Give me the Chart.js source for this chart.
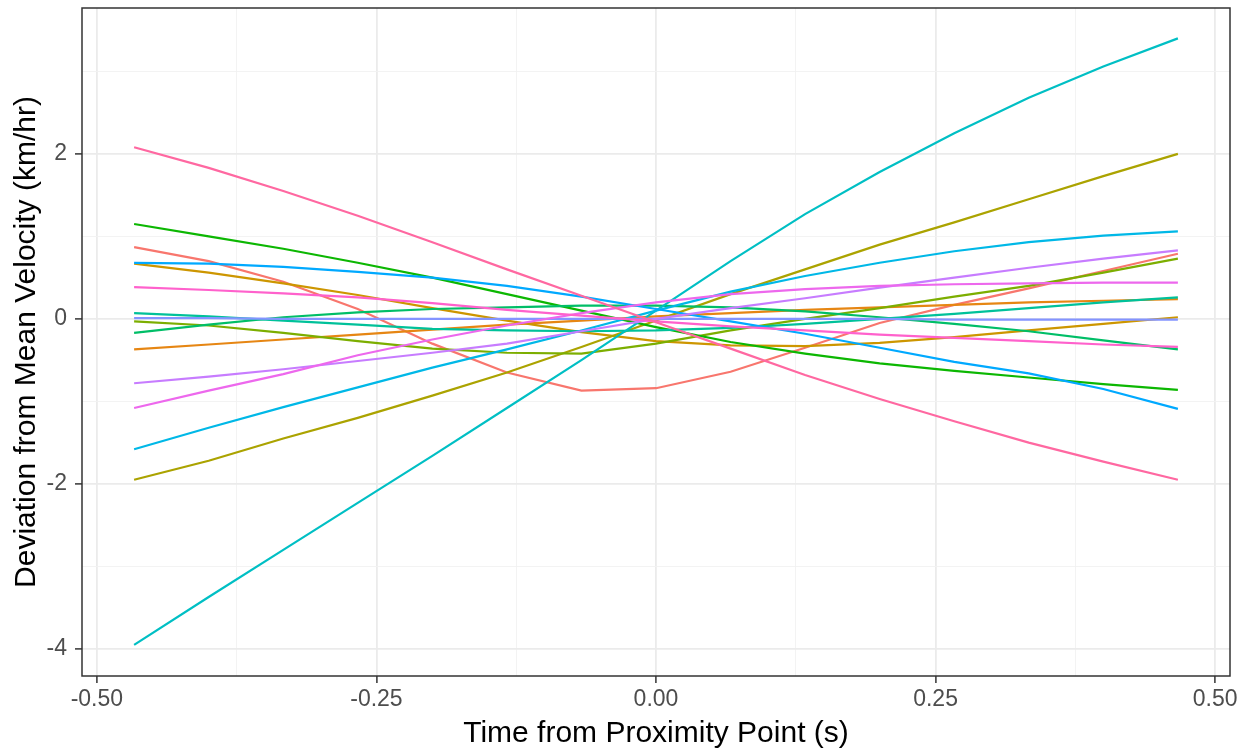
<!DOCTYPE html>
<html><head><meta charset="utf-8">
<script src="https://cdn.jsdelivr.net/npm/chart.js@4"></script>
<style>html,body{margin:0;padding:0;background:#fff;}canvas{display:block;}</style>
</head><body>
<canvas id="c" width="1249" height="749"></canvas>
<script>
const times = [-0.4667, -0.4, -0.3333, -0.2667, -0.2, -0.1333, -0.0667, 0, 0.0667, 0.1333, 0.2, 0.2667, 0.3333, 0.4, 0.4667];

const salmon      = [0.87, 0.70, 0.45, 0.12, -0.30, -0.65, -0.87, -0.84, -0.64, -0.35, -0.05, 0.17, 0.37, 0.58, 0.79];
const orange      = [-0.37, -0.31, -0.25, -0.19, -0.13, -0.07, -0.02, 0.03, 0.07, 0.11, 0.14, 0.17, 0.20, 0.22, 0.24];
const goldenrod   = [0.67, 0.56, 0.43, 0.29, 0.13, -0.02, -0.16, -0.27, -0.32, -0.33, -0.29, -0.22, -0.14, -0.06, 0.02];
const olive       = [-1.95, -1.72, -1.45, -1.20, -0.93, -0.65, -0.34, -0.02, 0.30, 0.60, 0.90, 1.17, 1.45, 1.73, 2.00];
const yellowGreen = [-0.03, -0.08, -0.17, -0.27, -0.36, -0.41, -0.42, -0.30, -0.14, 0.00, 0.13, 0.27, 0.40, 0.56, 0.73];
const green       = [1.15, 1.00, 0.85, 0.68, 0.50, 0.30, 0.10, -0.10, -0.28, -0.42, -0.54, -0.63, -0.71, -0.79, -0.86];
const greenTeal   = [-0.17, -0.07, 0.02, 0.08, 0.12, 0.14, 0.16, 0.16, 0.14, 0.09, 0.02, -0.06, -0.15, -0.26, -0.37];
const teal        = [0.07, 0.03, -0.02, -0.07, -0.12, -0.14, -0.15, -0.14, -0.11, -0.06, 0.00, 0.06, 0.13, 0.20, 0.26];
const cyan        = [-3.95, -3.37, -2.80, -2.23, -1.66, -1.08, -0.50, 0.10, 0.70, 1.27, 1.78, 2.25, 2.68, 3.06, 3.40];
const sky         = [-1.58, -1.32, -1.07, -0.83, -0.59, -0.37, -0.14, 0.10, 0.33, 0.52, 0.68, 0.82, 0.93, 1.01, 1.06];
const blue        = [0.68, 0.67, 0.63, 0.57, 0.50, 0.40, 0.27, 0.12, -0.03, -0.18, -0.35, -0.52, -0.66, -0.85, -1.09];
const periwinkle  = [0.01, 0.01, 0.00, 0.00, 0.00, 0.00, 0.00, 0.00, 0.00, 0.00, 0.00, -0.01, -0.01, -0.01, -0.01];
const purple      = [-0.78, -0.70, -0.61, -0.51, -0.41, -0.30, -0.15, 0.00, 0.13, 0.25, 0.38, 0.50, 0.62, 0.73, 0.83];
const violet      = [-1.08, -0.87, -0.67, -0.44, -0.25, -0.08, 0.07, 0.20, 0.30, 0.36, 0.40, 0.42, 0.43, 0.44, 0.44];
const magenta     = [0.385, 0.35, 0.31, 0.26, 0.19, 0.11, 0.04, -0.03, -0.09, -0.14, -0.19, -0.23, -0.27, -0.31, -0.34];
const pink        = [2.08, 1.83, 1.55, 1.25, 0.93, 0.60, 0.28, -0.04, -0.36, -0.68, -0.97, -1.24, -1.50, -1.73, -1.95];

const seriesList = [salmon, orange, goldenrod, olive, yellowGreen, green, greenTeal, teal, cyan, sky, blue, periwinkle, purple, violet, magenta, pink];
const seriesColors = ['#F8766D', '#E68613', '#CD9600', '#ABA300', '#7CAE00', '#0CB702', '#00BE67', '#00C19A', '#00BFC4', '#00B8E7', '#00A9FF', '#8494FF', '#C77CFF', '#ED68ED', '#FF61CC', '#FF68A1'];

const xTicks = [-0.5, -0.375, -0.25, -0.125, 0, 0.125, 0.25, 0.375, 0.5];
const xMajor = [-0.5, -0.25, 0, 0.25, 0.5];
const yTicks = [-4, -3, -2, -1, 0, 1, 2, 3];
const yMajor = [-4, -2, 0, 2];
const xLimits = [-0.5133, 0.5133];
const yLimits = [-4.328, 3.768];

const FONT = "'Liberation Sans', Arial, sans-serif";

const datasets = seriesList.map((vals, i) => ({
  data: vals.map((v, j) => ({x: times[j], y: v})),
  borderColor: seriesColors[i],
  backgroundColor: seriesColors[i],
  borderWidth: 2.2,
  pointRadius: 0,
  tension: 0,
  fill: false,
  order: seriesList.length - i
}));

const panelBorder = {
  id: 'panelBorder',
  afterDatasetsDraw(chart) {
    const {ctx, chartArea: a} = chart;
    ctx.save();
    ctx.strokeStyle = '#333333';
    ctx.lineWidth = 1.5;
    ctx.strokeRect(a.left, a.top, a.right - a.left, a.bottom - a.top);
    ctx.restore();
  }
};

function gridOpts(major) {
  return {
    drawOnChartArea: true,
    drawTicks: true,
    tickLength: 7,
    color: c => (c.tick && major.includes(c.tick.value)) ? '#EBEBEB' : '#F2F2F2',
    lineWidth: c => (c.tick && major.includes(c.tick.value)) ? 1.8 : 0.9,
    tickColor: c => (c.tick && major.includes(c.tick.value)) ? '#333333' : 'rgba(0,0,0,0)',
    tickWidth: 1.5
  };
}

function zeroPad(s) { s.paddingTop = 0; s.paddingBottom = 0; s.paddingLeft = 0; s.paddingRight = 0; }

new Chart(document.getElementById('c'), {
  type: 'line',
  data: { datasets },
  options: {
    responsive: false,
    devicePixelRatio: 1,
    animation: false,
    layout: { padding: { left: 0, right: 19, top: 8, bottom: 0 } },
    plugins: { legend: { display: false }, tooltip: { enabled: false } },
    scales: {
      x: {
        type: 'linear',
        min: xLimits[0], max: xLimits[1],
        afterBuildTicks: s => { s.ticks = xTicks.map(v => ({value: v})); },
        afterFit: s => { s.height = 73; zeroPad(s); },
        ticks: {
          autoSkip: false, maxRotation: 0, minRotation: 0, padding: 3,
          color: '#4D4D4D', font: { family: FONT, size: 23 },
          callback: v => xMajor.includes(v) ? v.toFixed(2) : ''
        },
        grid: gridOpts(xMajor),
        border: { display: false },
        title: { display: true, text: 'Time from Proximity Point (s)', color: '#000000',
                 font: { family: FONT, size: 30, lineHeight: 1 }, padding: { top: 0, bottom: 0 } }
      },
      y: {
        type: 'linear',
        min: yLimits[0], max: yLimits[1],
        afterBuildTicks: s => { s.ticks = yTicks.map(v => ({value: v})); },
        afterFit: s => { s.width = 82; zeroPad(s); },
        ticks: {
          autoSkip: false, padding: 8,
          color: '#4D4D4D', font: { family: FONT, size: 23 },
          callback: v => yMajor.includes(v) ? String(v) : ''
        },
        grid: gridOpts(yMajor),
        border: { display: false },
        title: { display: true, text: 'Deviation from Mean Velocity (km/hr)', color: '#000000',
                 font: { family: FONT, size: 30, lineHeight: 1 }, padding: { top: 12, bottom: 0 } }
      }
    }
  },
  plugins: [panelBorder]
});
</script>
</body></html>
